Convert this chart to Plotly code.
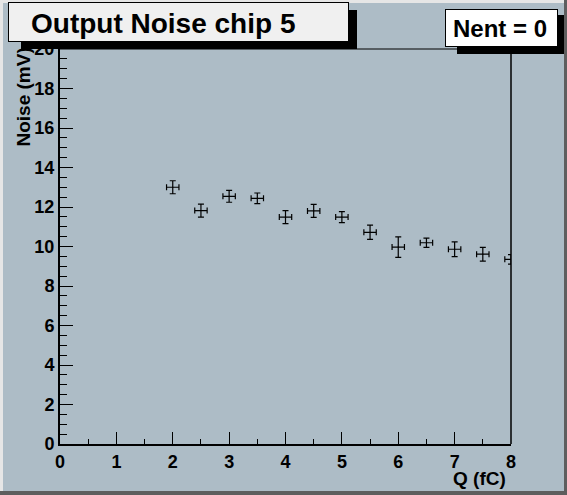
import plotly.graph_objects as go

# Data
q_fc = [2.0, 2.5, 3.0, 3.5, 4.0, 4.5, 5.0, 5.5, 6.0, 6.5, 7.0, 7.5, 8.0]
noise_mv = [13.0, 11.82, 12.54, 12.44, 11.49, 11.80, 11.49, 10.72, 9.97, 10.19, 9.86, 9.61, 9.35]
noise_err = [0.33, 0.33, 0.30, 0.27, 0.33, 0.33, 0.28, 0.36, 0.52, 0.23, 0.37, 0.35, 0.24]
q_err = [0.11] * 13
title_text = "Output Noise chip 5"
stats_text = "Nent = 0"
x_title = "Q (fC)"
y_title = "Noise (mV)"

W, H = 567, 495
L, R, T, B = 60, 511, 49, 444
BG = "#adbcc6"
FONT = "Liberation Sans, Arial, Helvetica, sans-serif"


def px(x):
    return (x - L) / (R - L)


def py(y):
    return (B - y) / (B - T)


def rect(x0, y0, x1, y1, fill, layer="above"):
    return dict(type="rect", xref="paper", yref="paper",
                x0=px(x0), x1=px(x1), y0=py(y1), y1=py(y0),
                fillcolor=fill, line=dict(color=fill, width=0), layer=layer)


def box(x0, y0, x1, y1, fill, border):
    bw = 1 if border else 0
    return dict(text=" ", xref="paper", yref="paper", x=px(x0), y=py(y0),
                xanchor="left", yanchor="top", showarrow=False,
                width=(x1 - x0) - 2 * bw, height=(y1 - y0) - 2 * bw,
                bgcolor=fill, bordercolor="black", borderwidth=bw, borderpad=0,
                font=dict(size=10))


fig = go.Figure()
fig.add_trace(go.Scatter(
    x=q_fc, y=noise_mv, mode="markers",
    marker=dict(size=1, color="black"),
    error_x=dict(type="data", array=q_err, color="black", thickness=1.2, width=3),
    error_y=dict(type="data", array=noise_err, color="black", thickness=1.2, width=3),
    showlegend=False, hoverinfo="x+y",
))

shapes = [
    # canvas bevel
    rect(0, 0, 3, 495, "#e6e6e6", layer="below"),
    rect(0, 0, 567, 3, "#e6e6e6", layer="below"),
    rect(0, 491, 567, 495, "#5e5e5e"),
    rect(564, 0, 567, 495, "#5e5e5e"),
    # frame top/right
    dict(type="line", xref="paper", yref="paper", x0=0, x1=1, y0=1, y1=1,
         line=dict(color="black", width=1), layer="above"),
    dict(type="line", xref="paper", yref="paper", x0=1, x1=1, y0=0, y1=1,
         line=dict(color="black", width=1.5), layer="above"),
]

annotations = [
    # title shadow + box
    box(21, 10, 357, 49, "black", False),
    box(8, 2, 349, 42, "#f0f0f0", True),
    # stats shadow + box
    box(457, 15, 564, 54, "black", False),
    box(445, 9, 558, 47, "white", True),
    dict(text="<b>%s</b>" % title_text, xref="paper", yref="paper", x=px(163), y=py(23),
         showarrow=False, font=dict(family=FONT, size=28, color="black"), xanchor="center", yanchor="middle"),
    dict(text="<b>%s</b>" % stats_text, xref="paper", yref="paper", x=px(500), y=py(29),
         showarrow=False, font=dict(family=FONT, size=24, color="black"), xanchor="center", yanchor="middle"),
    dict(text="<b>%s</b>" % x_title, xref="paper", yref="paper", x=px(508), y=py(478),
         showarrow=False, font=dict(family=FONT, size=19, color="black"), xanchor="right", yanchor="middle"),
    dict(text="<b>%s</b>" % y_title, xref="paper", yref="paper", x=px(23), y=py(46), textangle=-90,
         showarrow=False, font=dict(family=FONT, size=19, color="black"), xanchor="center", yanchor="top"),
]

fig.update_layout(
    width=W, height=H,
    margin=dict(l=L, r=W - R, t=T, b=H - B, pad=0),
    paper_bgcolor=BG, plot_bgcolor=BG,
    shapes=shapes, annotations=annotations,
    font=dict(family=FONT, color="black"),
    xaxis=dict(range=[0, 8], dtick=1, tick0=0, ticks="inside", ticklen=12, tickwidth=1, tickcolor="black",
               showline=True, linecolor="black", linewidth=2, showgrid=False, zeroline=False,
               tickfont=dict(family=FONT, size=18, color="black", weight="bold"),
               minor=dict(dtick=0.5, ticks="inside", ticklen=5, tickcolor="black", showgrid=False),
               fixedrange=True),
    yaxis=dict(range=[0, 20], dtick=2, tick0=0, ticks="inside", ticklen=13, tickwidth=1, tickcolor="black",
               showline=True, linecolor="black", linewidth=2, showgrid=False, zeroline=False,
               tickfont=dict(family=FONT, size=18, color="black", weight="bold"),
               minor=dict(dtick=0.5, ticks="inside", ticklen=7, tickcolor="black", showgrid=False),
               fixedrange=True),
)

fig.write_html("out.html")
